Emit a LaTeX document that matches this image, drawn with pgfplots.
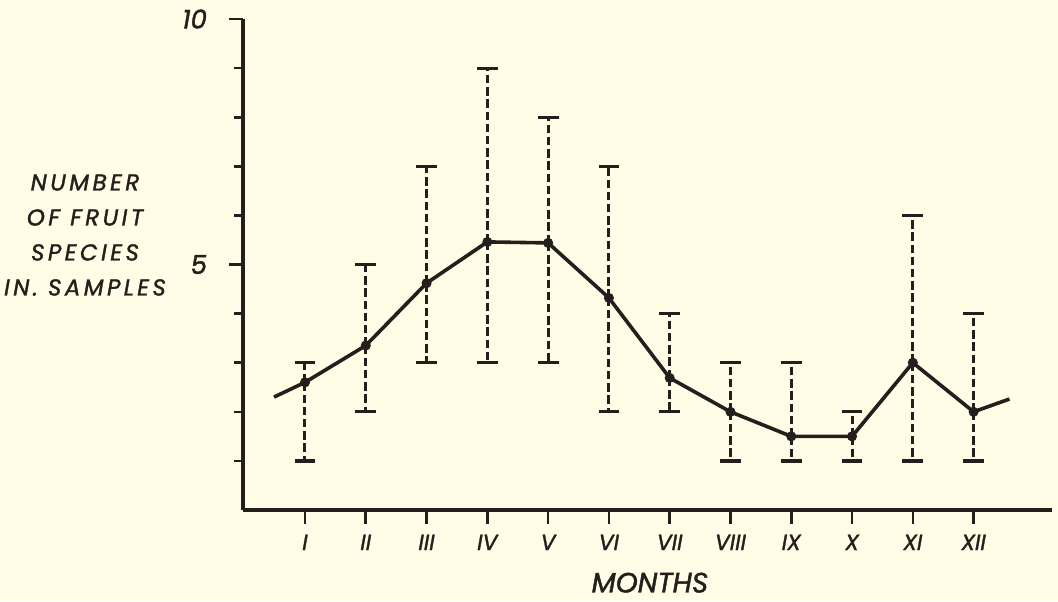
\documentclass[border=0pt]{standalone}
\usepackage{pgfplots}
\pgfplotsset{compat=1.18}
\usepackage{fontspec}
\setmainfont{Poppins}[FakeBold=1.5]
\newfontfamily\lblfont{Poppins}[LetterSpace=15, FakeBold=1.5]
\definecolor{bg}{RGB}{255,253,230}
\definecolor{ink}{RGB}{35,31,28}
\begin{document}
\begin{tikzpicture}[x=1pt,y=1pt]
\fill[bg] (0,0) rectangle (529,300.5);
\path[use as bounding box] (0,0) rectangle (529,300.5);
\begin{axis}[
  at={(121.5pt,45.5pt)}, anchor=south west,
  scale only axis, width=404.5pt, height=245.5pt,
  xmin=-0.02, xmax=13.29, ymin=0, ymax=10,
  axis lines*=left,
  axis line style={ink, line width=1.6pt},
  tick align=outside,
  major tick length=7pt, minor tick length=4.5pt,
  every tick/.style={ink, line width=1.3pt},
  xtick={1,...,12},
  xticklabels={I,II,III,IV,V,VI,VII,VIII,IX,X,XI,XII},
  xticklabel style={font=\fontsize{11}{12}\selectfont\itshape, text=ink, anchor=base, yshift=-13pt},
  ytick={5,10}, yticklabels={5,10},
  minor ytick={1,2,3,4,6,7,8,9},
  yticklabel style={font=\fontsize{13}{14}\selectfont\itshape, text=ink, anchor=east, xshift=-7.5pt},
  xlabel={MONTHS},
  every axis x label/.style={at={(rel axis cs:0.503,-0.148)}, anchor=center, font=\fontsize{14}{16}\selectfont\itshape, text=ink},
  ylabel={NUMBER\\OF FRUIT\\SPECIES\\IN. SAMPLES},
  every axis y label/.style={at={(rel axis cs:-0.1953,0.56)}, anchor=center, align=center, font=\lblfont\fontsize{11.5}{17.5}\selectfont\itshape, text=ink},
  clip=false,
]
\addplot[ink, line width=1.8pt, no marks] coordinates {
  (0.49,2.30) (1,2.60) (2,3.35) (3,4.62) (4,5.46) (5,5.44) (6,4.32)
  (7,2.69) (8,2.00) (9,1.50) (10,1.50) (11,3.00) (12,2.00) (12.59,2.26)
};
\addplot[ink, only marks, mark=*, mark size=2.3pt,
  error bars/.cd, y dir=both, y explicit,
  error bar style={ink, line width=1.5pt, dash pattern=on 4.2pt off 1.9pt},
  error mark options={ink, rotate=90, mark size=5.2pt, line width=1.6pt, solid}]
  table[x=m, y=v, y error plus=ep, y error minus=em] {
m v ep em
1 2.60 0.40 1.60
2 3.35 1.65 1.35
3 4.62 2.38 1.62
4 5.46 3.54 2.46
5 5.44 2.56 2.44
6 4.32 2.68 2.32
7 2.69 1.31 0.69
8 2.00 1.00 1.00
9 1.50 1.50 0.50
10 1.50 0.50 0.50
11 3.00 3.00 2.00
12 2.00 2.00 1.00
};
\end{axis}
\end{tikzpicture}
\end{document}
